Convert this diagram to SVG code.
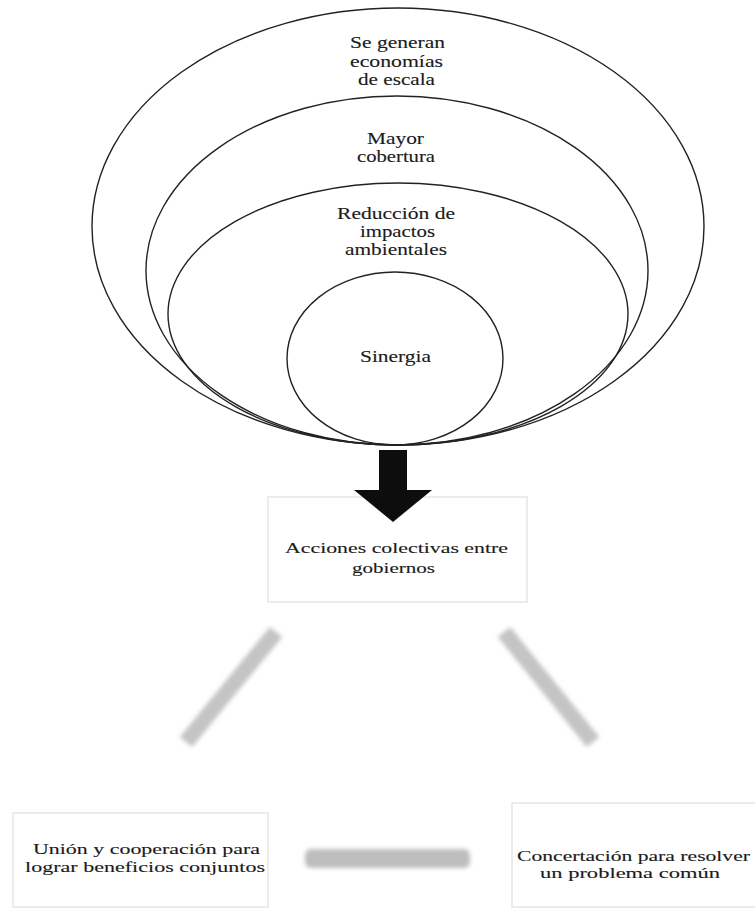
<svg xmlns="http://www.w3.org/2000/svg" width="755" height="920" viewBox="0 0 755 920">
  <defs>
    <filter id="soft" x="-20%" y="-20%" width="140%" height="140%">
      <feGaussianBlur stdDeviation="2.2"/>
    </filter>
    <filter id="slight" x="-10%" y="-10%" width="120%" height="120%">
      <feGaussianBlur stdDeviation="0.6"/>
    </filter>
    <filter id="shadow" x="-10%" y="-50%" width="120%" height="200%">
      <feGaussianBlur stdDeviation="2"/>
    </filter>
  </defs>
  <style>
    .ring { fill: none; stroke: #222; stroke-width: 1.4; }
    .t { font-size: 16.5px; fill: #1a1a1a; stroke: #1a1a1a; stroke-width: 0.12; }
    .tb { font-size: 15.5px; fill: #1a1a1a; stroke: #1a1a1a; stroke-width: 0.12; }
    .box { fill: #ffffff; stroke: #ececec; stroke-width: 2; }
    .boxshadow { fill: none; stroke: #b8b8b8; stroke-width: 3.5; filter: url(#shadow); }
    .grey { stroke: #c4c4c4; stroke-width: 16; stroke-linecap: butt; fill: none; filter: url(#soft); }
  </style>

  <rect width="755" height="920" fill="#ffffff"/>

  <g font-family="'Liberation Serif', 'Times New Roman', serif">
  <!-- nested ellipses, all touching at the bottom -->
  <g id="node-economias">
    <ellipse class="ring" cx="398" cy="226.5" rx="306" ry="218.5"/>
    <text class="t" x="350" y="48" textLength="95" lengthAdjust="spacingAndGlyphs">Se generan</text>
    <text class="t" x="350" y="67" textLength="93" lengthAdjust="spacingAndGlyphs">economías</text>
    <text class="t" x="358" y="85" textLength="77" lengthAdjust="spacingAndGlyphs">de escala</text>
  </g>
  <g id="node-cobertura">
    <ellipse class="ring" cx="397" cy="270.5" rx="251" ry="174.5"/>
    <text class="t" x="367" y="144" textLength="57" lengthAdjust="spacingAndGlyphs">Mayor</text>
    <text class="t" x="357" y="162" textLength="78" lengthAdjust="spacingAndGlyphs">cobertura</text>
  </g>
  <g id="node-impactos">
    <ellipse class="ring" cx="398" cy="314" rx="230" ry="131"/>
    <text class="t" x="337" y="219" textLength="118" lengthAdjust="spacingAndGlyphs">Reducción de</text>
    <text class="t" x="360" y="237" textLength="75" lengthAdjust="spacingAndGlyphs">impactos</text>
    <text class="t" x="345" y="255" textLength="102" lengthAdjust="spacingAndGlyphs">ambientales</text>
  </g>
  <g id="node-sinergia">
    <ellipse class="ring" cx="395" cy="358.5" rx="108" ry="86.5"/>
    <text class="t" x="360" y="362" textLength="71" lengthAdjust="spacingAndGlyphs">Sinergia</text>
  </g>

  <!-- boxes -->
  <g id="node-acciones">
    <rect class="box" x="268" y="497" width="259" height="105"/>
    <line class="boxshadow" x1="270" y1="603" x2="527" y2="603"/>
    <text class="tb" x="285" y="553" textLength="223" lengthAdjust="spacingAndGlyphs">Acciones colectivas entre</text>
    <text class="tb" x="352" y="573" textLength="83" lengthAdjust="spacingAndGlyphs">gobiernos</text>
  </g>
  <g id="node-union">
    <rect class="box" x="13" y="813" width="255" height="94"/>
    <line class="boxshadow" x1="15" y1="908" x2="268" y2="908"/>
    <text class="tb" x="33" y="854" textLength="227" lengthAdjust="spacingAndGlyphs">Unión y cooperación para</text>
    <text class="tb" x="25" y="872" textLength="240" lengthAdjust="spacingAndGlyphs">lograr beneficios conjuntos</text>
  </g>
  <g id="node-concertacion">
    <rect class="box" x="512" y="803" width="250" height="104"/>
    <line class="boxshadow" x1="514" y1="908" x2="755" y2="908"/>
    <text class="tb" x="517" y="861" textLength="233" lengthAdjust="spacingAndGlyphs">Concertación para resolver</text>
    <text class="tb" x="540" y="878" textLength="180" lengthAdjust="spacingAndGlyphs">un problema común</text>
  </g>
  </g>

  <!-- connectors -->
  <g id="connectors">
    <polygon points="379,450 407,450 407,490 432,490 393,522 354,490 379,490" fill="#111" filter="url(#slight)"/>
    <line class="grey" x1="276" y1="632" x2="186" y2="742"/>
    <line class="grey" x1="504" y1="632" x2="593" y2="742"/>
    <rect x="305" y="849" width="165" height="19" rx="6" fill="#bdbdbd" filter="url(#soft)"/>
  </g>
</svg>
